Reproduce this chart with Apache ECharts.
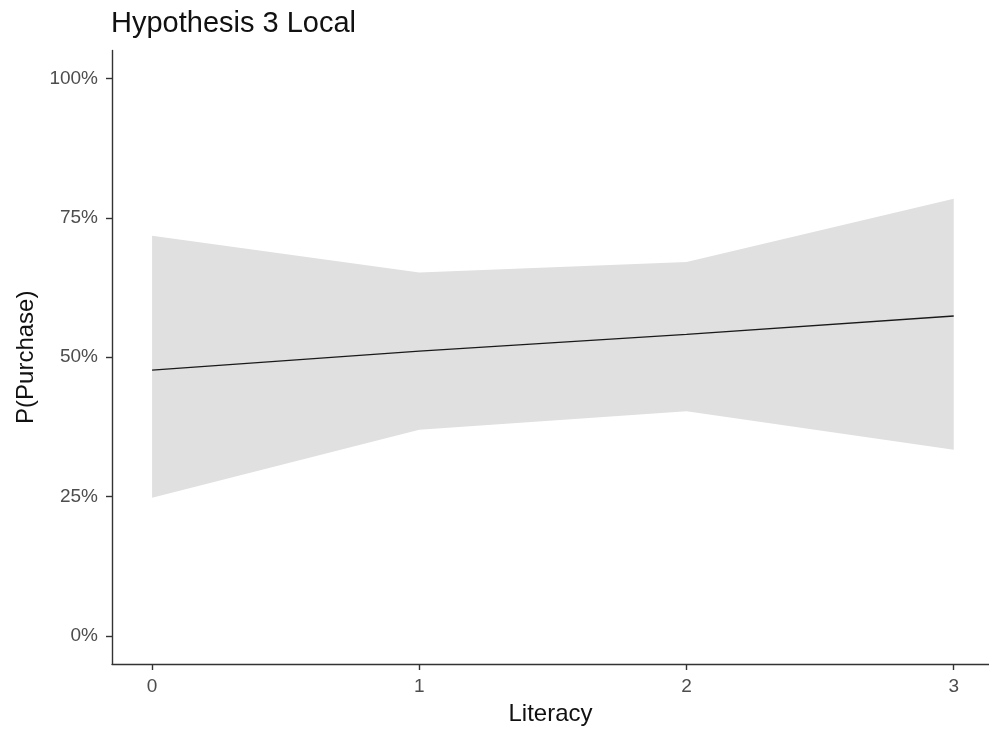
<!DOCTYPE html>
<html>
<head>
<meta charset="utf-8">
<script src="https://cdn.jsdelivr.net/npm/echarts@6/dist/echarts.min.js"></script>
<style>html,body{margin:0;padding:0;background:#fff}#c{width:989px;height:740px}</style>
</head>
<body>
<div id="c"></div>
<script>
const literacy = [0, 1, 2, 3];
const predicted = [0.477, 0.511, 0.541, 0.574];
const lowerCI = [0.248, 0.370, 0.403, 0.334];
const upperCI = [0.718, 0.652, 0.671, 0.784];
const xTicks = [0, 1, 2, 3];
const yTicks = [0, 0.25, 0.5, 0.75, 1];

const font = '"Liberation Sans", Arial, sans-serif';
const chart = echarts.init(document.getElementById('c'), null, {renderer: 'canvas'});
chart.setOption({
  animation: false,
  backgroundColor: '#fff',
  title: {
    text: 'Hypothesis 3 Local',
    left: 106, top: 4,
    textStyle: {fontFamily: font, fontSize: 29, fontWeight: 'normal', color: '#111'}
  },
  grid: {left: 112, top: 50.5, right: 0, bottom: 76, containLabel: false},
  xAxis: {
    type: 'value', min: -0.15, max: 3.132,
    name: 'Literacy', nameLocation: 'middle', nameGap: 38,
    nameTextStyle: {fontFamily: font, fontSize: 24, color: '#111'},
    axisLine: {show: true, onZero: false, lineStyle: {color: '#333', width: 1.4}},
    axisTick: {show: true, length: 6, lineStyle: {color: '#333', width: 1.4}, customValues: xTicks},
    axisLabel: {fontFamily: font, fontSize: 19, color: '#4d4d4d', margin: 13, customValues: xTicks},
    splitLine: {show: false}
  },
  yAxis: {
    type: 'value', min: -0.05, max: 1.05,
    name: 'P(Purchase)', nameLocation: 'middle', nameGap: 70,
    nameTextStyle: {fontFamily: font, fontSize: 24, color: '#111'},
    axisLine: {show: true, onZero: false, lineStyle: {color: '#333', width: 1.4}},
    axisTick: {show: true, length: 6, lineStyle: {color: '#333', width: 1.4}, customValues: yTicks},
    axisLabel: {fontFamily: font, fontSize: 19, color: '#4d4d4d', margin: 14, customValues: yTicks,
      formatter: v => Math.round(v * 100) + '%'},
    splitLine: {show: false}
  },
  series: [
    {
      type: 'custom', silent: true,
      data: literacy.map((x, i) => [x, lowerCI[i], upperCI[i]]),
      encode: {x: 0, y: [1, 2]},
      renderItem: (params, api) => {
        if (params.dataIndex !== 0) return null;
        const upperPts = literacy.map((x, i) => api.coord([x, upperCI[i]]));
        const lowerPts = literacy.map((x, i) => api.coord([x, lowerCI[i]])).reverse();
        return {type: 'polygon', shape: {points: upperPts.concat(lowerPts)}, style: {fill: '#e0e0e0'}};
      }
    },
    {
      type: 'line', symbol: 'none', silent: true,
      data: literacy.map((x, i) => [x, predicted[i]]),
      lineStyle: {color: '#1a1a1a', width: 1.3}
    }
  ]
});
</script>
</body>
</html>
